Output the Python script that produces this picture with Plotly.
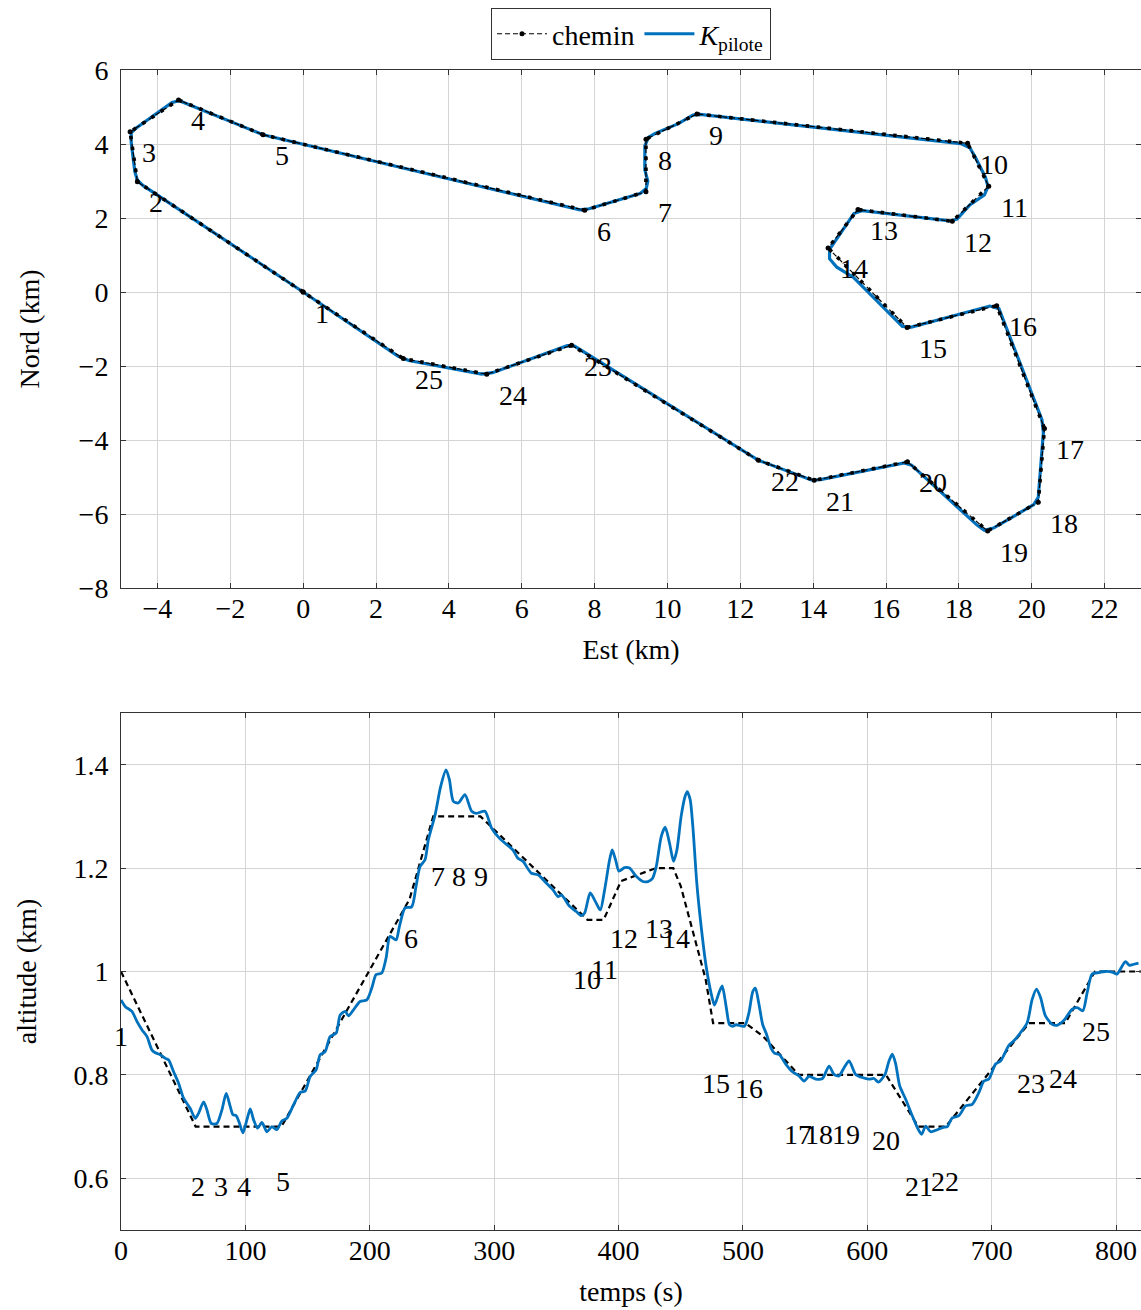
import plotly.graph_objects as go

# ---- Waypoints of the circuit (horizontal plane, km) ----
wp_est = [0.0, -4.55, -4.75, -3.42, -1.1, 7.73, 9.41, 9.41, 10.81, 18.24,
          18.82, 17.82, 15.23, 14.41, 16.58, 19.04, 20.35, 20.18, 18.79, 16.59,
          14.03, 12.5, 7.37, 5.04, 2.75]
wp_nord = [0.0, 2.98, 4.33, 5.19, 4.25, 2.21, 2.71, 4.13, 4.81, 4.02,
           2.86, 1.91, 2.23, 1.19, -0.96, -0.37, -3.69, -5.68, -6.46, -4.59,
           -5.09, -4.55, -1.44, -2.22, -1.8]
wp_names = [str(i) for i in range(1, 26)]

# Waypoint passage times (s) and altitudes (km)
wp_temps = [0, 62.1, 80.1, 98.8, 129.9, 233.5, 254.9, 271.7, 289.2, 374.6,
            388.8, 404.0, 432.9, 446.3, 478.5, 505.2, 544.1, 561.4, 582.9, 615.0,
            641.8, 662.7, 731.5, 756.9, 783.7]
wp_alt = [0.99, 0.70, 0.70, 0.70, 0.71, 1.18, 1.30, 1.30, 1.30, 1.10,
          1.12, 1.18, 1.20, 1.18, 0.90, 0.89, 0.80, 0.80, 0.80, 0.79,
          0.70, 0.71, 0.90, 0.91, 1.0]

# Altitude profile of the reference path
ref_temps = [0, 60, 129, 232, 251, 289, 375, 388, 402, 430, 444, 450, 470, 476,
             502, 516, 545, 615, 641, 663, 730, 759, 783, 820]
ref_alt = [1.0, 0.70, 0.70, 1.14, 1.30, 1.30, 1.10, 1.10, 1.175, 1.20, 1.20, 1.165,
           0.985, 0.90, 0.90, 0.875, 0.80, 0.80, 0.70, 0.70, 0.90, 0.90, 1.0, 1.0]

# Trajectory flown with the K_pilote controller (horizontal plane)
kp_est = [0.0, -4.40, -4.55, -4.62, -4.72, -4.72, -4.60, -3.60, -3.40, -3.20,
          -1.10, 7.60, 7.85, 9.25, 9.42, 9.46, 9.38, 9.38, 9.48, 9.65,
          10.30, 10.70, 10.90, 18.05, 18.30, 18.45, 18.73, 18.80, 18.70, 18.30,
          17.95, 17.75, 15.35, 15.12, 14.45, 14.45, 14.65, 15.10, 16.45, 16.70,
          18.85, 19.10, 20.28, 20.32, 20.18, 20.05, 18.95, 18.70, 18.50, 16.70,
          16.50, 14.20, 13.95, 12.50, 7.45, 7.25, 5.20, 4.90, 2.90, 2.60, 0.0]
kp_nord = [0.0, 2.88, 3.02, 3.25, 4.05, 4.30, 4.42, 5.12, 5.17, 5.09,
           4.25, 2.22, 2.25, 2.66, 2.80, 3.00, 3.30, 3.95, 4.18, 4.28,
           4.55, 4.78, 4.80, 4.01, 3.90, 3.65, 3.10, 2.85, 2.62, 2.35,
           1.97, 1.92, 2.20, 2.12, 1.15, 0.90, 0.67, 0.40, -0.93, -0.95,
           -0.38, -0.45, -3.45, -3.80, -5.55, -5.75, -6.38, -6.44, -6.30, -4.68,
           -4.62, -5.07, -5.08, -4.55, -1.46, -1.45, -2.18, -2.22, -1.85, -1.73, 0.0]

# Altitude flown with K_pilote
kp_temps = [0, 3.5, 8.8, 12.9, 16.9, 20.9, 24.9, 27.6, 31.6, 35.6, 38.3, 42.3, 46.3,
            50.3, 55.7, 59.7, 62.4, 66.4, 69.1, 72.6, 77.1, 81.1, 84.6, 87.8, 90.0,
            92.6, 95.3, 98.0, 101.2, 103.9, 106.6, 109.8, 113.3, 117.3, 121.3, 125.3,
            129.3, 133.3, 138.7, 144.0, 148.1, 152.1, 156.9, 160.1, 164.1, 168.1,
            173.0, 176.2, 180.2, 182.9, 186.9, 192.2, 197.6, 201.6, 205.1, 209.6,
            213.1, 216.3, 221.1, 223.8, 228.4, 233.7, 237.2, 240.4, 244.4, 247.1,
            252.5, 257.0, 261.3, 264.0, 267.2, 271.2, 276.5, 281.9, 285.9, 292.6,
            298.0, 304.5, 315.1, 319.1, 323.2, 329.9, 335.2, 341.9, 347.3, 351.3,
            354.0, 360.7, 366.0, 370.0, 372.7, 377.2, 382.1, 385.3, 388.8, 392.8,
            394.9, 397.6, 400.3, 404.8, 408.8, 414.2, 419.5, 423.6, 427.0, 430.3,
            434.3, 437.5, 441.0, 444.2, 446.9, 450.3, 453.5, 455.2, 457.6, 459.7,
            462.9, 466.4, 470.4, 474.4, 477.1, 480.6, 483.3, 486.5, 489.2, 491.8,
            494.5, 501.2, 504.7, 507.9, 510.0, 512.7, 515.9, 518.6, 522.6, 525.3,
            529.3, 534.4, 539.8, 545.1, 549.1, 553.1, 558.5, 563.9, 569.2, 573.2,
            577.2, 581.3, 585.3, 590.6, 596.0, 601.3, 605.4, 608.8, 614.2, 617.4,
            620.1, 622.8, 626.0, 630.8, 636.1, 640.2, 643.6, 646.9, 650.9, 656.3,
            661.6, 664.3, 668.3, 673.6, 679.0, 684.3, 689.7, 693.7, 697.7, 703.1,
            707.1, 713.8, 717.8, 723.2, 728.5, 732.5, 736.0, 739.2, 743.2, 748.6,
            752.6, 757.9, 764.7, 768.7, 773.2, 776.7, 780.7, 786.1, 791.4, 796.8,
            800.8, 803.5, 807.5, 810.7, 814.2, 818.0]
kp_alt = [0.945, 0.932, 0.923, 0.903, 0.887, 0.874, 0.848, 0.843, 0.839, 0.832, 0.829,
          0.806, 0.784, 0.755, 0.735, 0.716, 0.726, 0.748, 0.732, 0.706, 0.706, 0.732,
          0.764, 0.739, 0.723, 0.721, 0.706, 0.688, 0.713, 0.734, 0.713, 0.697, 0.708,
          0.690, 0.700, 0.694, 0.711, 0.716, 0.742, 0.766, 0.769, 0.797, 0.810, 0.839,
          0.845, 0.874, 0.881, 0.916, 0.923, 0.914, 0.926, 0.942, 0.945, 0.968, 0.994,
          0.997, 1.026, 1.068, 1.061, 1.087, 1.123, 1.125, 1.165, 1.203, 1.216, 1.255,
          1.303, 1.358, 1.390, 1.371, 1.329, 1.326, 1.342, 1.310, 1.306, 1.310, 1.277,
          1.257, 1.235, 1.219, 1.213, 1.190, 1.187, 1.171, 1.158, 1.145, 1.148, 1.126,
          1.116, 1.108, 1.113, 1.152, 1.132, 1.119, 1.158, 1.216, 1.235, 1.216, 1.194,
          1.201, 1.200, 1.184, 1.174, 1.174, 1.179, 1.203, 1.261, 1.279, 1.248, 1.213,
          1.235, 1.300, 1.339, 1.348, 1.332, 1.281, 1.171, 1.087, 1.010, 0.958, 0.935,
          0.958, 0.972, 0.932, 0.897, 0.894, 0.897, 0.894, 0.919, 0.961, 0.968, 0.939,
          0.897, 0.881, 0.852, 0.842, 0.839, 0.821, 0.806, 0.798, 0.788, 0.797, 0.792,
          0.793, 0.817, 0.801, 0.798, 0.814, 0.827, 0.801, 0.795, 0.792, 0.793, 0.786,
          0.801, 0.827, 0.840, 0.821, 0.779, 0.753, 0.721, 0.698, 0.685, 0.701, 0.690,
          0.694, 0.699, 0.700, 0.717, 0.721, 0.740, 0.743, 0.766, 0.788, 0.792, 0.821,
          0.827, 0.857, 0.866, 0.882, 0.901, 0.946, 0.966, 0.950, 0.914, 0.898, 0.896,
          0.905, 0.927, 0.930, 0.924, 0.959, 0.995, 0.998, 1.000, 0.999, 0.995, 1.005,
          1.019, 1.012, 1.014, 1.016]

BLUE = "#0072BD"
FONT = "Liberation Serif, DejaVu Serif, serif"
FS = 28

fig = go.Figure()

# --- horizontal plane ---
fig.add_trace(go.Scatter(
    x=kp_est, y=kp_nord, mode="lines", name="<i>K</i><sub>pilote</sub>",
    line=dict(color=BLUE, width=3.2), xaxis="x", yaxis="y", legendrank=2))
# dense dots of the reference path
fig.add_trace(go.Scatter(
    x=wp_est + wp_est[:1], y=wp_nord + wp_nord[:1], mode="lines",
    line=dict(color="black", width=3.6, dash="3.5px,7.5px"),
    xaxis="x", yaxis="y", showlegend=False, hoverinfo="skip"))
fig.add_trace(go.Scatter(
    x=wp_est + wp_est[:1], y=wp_nord + wp_nord[:1], mode="lines+markers",
    name="chemin", line=dict(color="black", width=1.2, dash="5px,3px"),
    marker=dict(color="black", size=5),
    xaxis="x", yaxis="y", legendrank=1))

# --- altitude vs time ---
fig.add_trace(go.Scatter(
    x=ref_temps, y=ref_alt, mode="lines",
    line=dict(color="black", width=2.2, dash="6px,4px"),
    xaxis="x2", yaxis="y2", showlegend=False))
fig.add_trace(go.Scatter(
    x=kp_temps, y=kp_alt, mode="lines",
    line=dict(color=BLUE, width=2.8, shape="spline", smoothing=0.7),
    xaxis="x2", yaxis="y2", showlegend=False))

annotations = []
for e, n, name in zip(wp_est, wp_nord, wp_names):
    annotations.append(dict(
        x=e, y=n, xref="x", yref="y", text=name, showarrow=False,
        xanchor="left", yanchor="middle", xshift=10, yshift=-21,
        font=dict(family=FONT, size=FS, color="black")))
for t, a, name in zip(wp_temps, wp_alt, wp_names):
    annotations.append(dict(
        x=t, y=a, xref="x2", yref="y2", text=name, showarrow=False,
        xanchor="center", yanchor="middle", yshift=-60,
        font=dict(family=FONT, size=FS, color="black")))

axis_common = dict(
    showline=True, linecolor="#333333", linewidth=1, mirror="ticks",
    ticks="inside", ticklen=5, tickcolor="#333333", tickwidth=1,
    showgrid=True, gridcolor="#d4d4d4", gridwidth=1, zeroline=False,
    tickfont=dict(family=FONT, size=FS, color="black"),
    automargin=False,
)

fig.update_layout(
    width=1141, height=1310,
    margin=dict(l=121, r=0, t=70, b=80),
    paper_bgcolor="white", plot_bgcolor="white",
    font=dict(family=FONT, size=FS, color="black"),
    showlegend=True,
    legend=dict(
        x=0.5, xanchor="center", y=1.0534, yanchor="top",
        orientation="h", bordercolor="#333333", borderwidth=1,
        bgcolor="white", font=dict(family=FONT, size=FS),
        itemwidth=50, tracegroupgap=0,
    ),
    xaxis=dict(domain=[0, 1], anchor="y", range=[-5, 23], dtick=2, tick0=0,
               title=dict(text="Est (km)", standoff=16,
                          font=dict(family=FONT, size=FS)),
               ticklabelstandoff=-5, **axis_common),
    yaxis=dict(domain=[0.55345, 1], anchor="x", range=[-8, 6], dtick=2, tick0=0,
               title=dict(text="Nord (km)", standoff=30,
                          font=dict(family=FONT, size=FS)),
               ticklabelstandoff=6, **axis_common),
    xaxis2=dict(domain=[0, 1], anchor="y2", range=[0, 820], dtick=100, tick0=0,
                title=dict(text="temps (s)", standoff=16,
                           font=dict(family=FONT, size=FS)),
                ticklabelstandoff=-5, **axis_common),
    yaxis2=dict(domain=[0, 0.44569], anchor="x2", range=[0.5, 1.5], dtick=0.2, tick0=0,
                title=dict(text="altitude (km)", standoff=28,
                           font=dict(family=FONT, size=FS)),
                ticklabelstandoff=6, **axis_common),
    annotations=annotations,
)

fig.write_html("out.html")
